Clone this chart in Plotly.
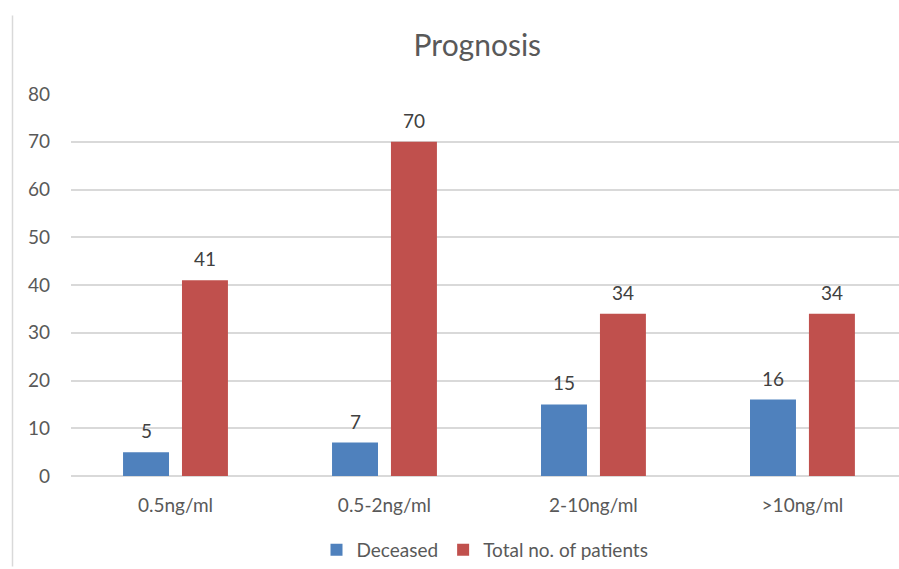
import plotly.graph_objects as go

# Prognosis by concentration band
categories = ["0.5ng/ml", "0.5-2ng/ml", "2-10ng/ml", ">10ng/ml"]
deceased = [5, 7, 15, 16]
total_patients = [41, 70, 34, 34]
y_ticks = [0, 10, 20, 30, 40, 50, 60, 70, 80]

BLUE = "#4F81BD"
RED = "#C0504D"
GRID = "#D9D9D9"
TEXT = "#595959"
FONT = "Lato"

fig = go.Figure()
fig.add_trace(go.Bar(name="Deceased", x=categories, y=deceased,
                     marker=dict(color=BLUE, line=dict(width=0))))
fig.add_trace(go.Bar(name="Total no. of patients", x=categories, y=total_patients,
                     marker=dict(color=RED, line=dict(width=0))))

# value labels above each bar
bargap, groupgap = 0.436, 0.22
slot = (1 - bargap) / 2
annotations = []
for series, off in ((deceased, -slot / 2), (total_patients, slot / 2)):
    for i, v in enumerate(series):
        annotations.append(dict(x=i + off, y=v, xref="x", yref="y", text=str(v),
                                showarrow=False, yanchor="bottom", yshift=8,
                                font=dict(family=FONT, size=19, color="#404040")))

fig.update_layout(
    width=899, height=569,
    margin=dict(l=71, r=0, t=94, b=91),
    paper_bgcolor="white", plot_bgcolor="white",
    barmode="group", bargap=bargap, bargroupgap=groupgap,
    title=dict(text="Prognosis", x=0.531, xanchor="center", y=1 - 45 / 569,
               yanchor="middle", font=dict(family=FONT, size=30, color=TEXT)),
    font=dict(family=FONT, color=TEXT),
    legend=dict(orientation="h", x=0.5, xanchor="center", y=-0.195, yanchor="middle",
                font=dict(family=FONT, size=19, color=TEXT), itemwidth=30,
                traceorder="normal"),
    annotations=annotations,
    shapes=[dict(type="line", xref="paper", yref="paper",
                 x0=(12.5 - 71) / 828, x1=(12.5 - 71) / 828,
                 y0=(478 - 15) / 384, y1=-91 / 384,
                 line=dict(color=GRID, width=1.5))],
)
fig.update_xaxes(type="category", range=[-0.5, 3.462], showgrid=False,
                 showline=False, zeroline=False, ticks="",
                 ticklabelstandoff=16,
                 tickfont=dict(family=FONT, size=19, color=TEXT))
fig.update_yaxes(range=[0, 80], tickvals=y_ticks, showgrid=True, gridcolor=GRID,
                 gridwidth=1.5, zeroline=True, zerolinecolor=GRID, zerolinewidth=1.5,
                 showline=False, ticks="", ticklabelstandoff=20,
                 tickfont=dict(family=FONT, size=19, color=TEXT))

fig.write_html("out.html")
